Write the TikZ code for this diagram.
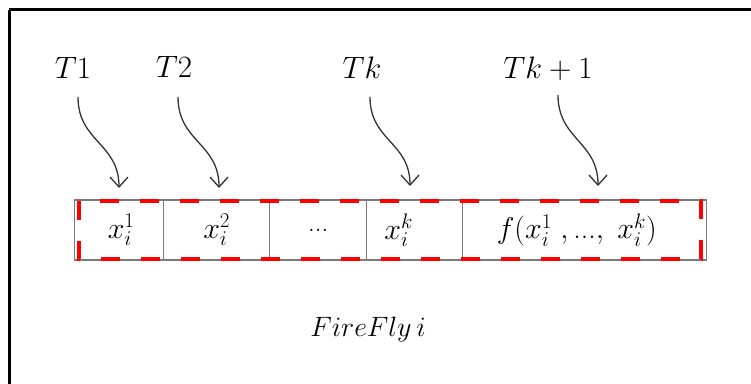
\RequirePackage{fix-cm}
\documentclass[tikz,border=0pt]{standalone}
\usepackage{amsmath}
\usetikzlibrary{arrows.meta}
\definecolor{cellgray}{HTML}{7A7A7A}
\definecolor{arrowgray}{HTML}{333333}
\definecolor{dashred}{HTML}{FF0000}
\tikzset{
  lbl/.style={anchor=base, inner sep=0pt, font=\fontsize{31}{36}\selectfont},
  cellbox/.style={draw=cellgray, line width=1.4pt, minimum height=60pt, inner sep=0pt, anchor=west,
    font=\fontsize{30}{34}\selectfont},
  wave/.style={draw=arrowgray, line width=1.3pt, -{Straight Barb[length=10pt,width=18pt,line width=1.3pt]}, out=-90, in=90, looseness=1.15},
  reddash/.style={draw=dashred, line width=4pt, dash pattern=on 19pt off 21pt}
}
\begin{document}
\begin{tikzpicture}[x=1pt,y=1pt]
\useasboundingbox (0,0) rectangle (751,383);
\begin{scope}
\clip (0,0) rectangle (751,383);
\draw[line width=3pt] (9,373) -- (770,373);
\draw[line width=3pt] (9,373) -- (9,-10);
\end{scope}
% cells with their texts
\node[cellbox, minimum width=89pt] (c1) at (74,153) {\hspace{4pt}$x_i^1$};
\node[cellbox, minimum width=106pt] (c2) at (163,153) {$x_i^2$};
\node[cellbox, minimum width=97pt] (c3) at (269,153) {\fontsize{27}{30}\selectfont...};
\node[cellbox, minimum width=96pt] (c4) at (366,153) {$x_i^k$\hspace{32pt}\null};
\node[cellbox, minimum width=244pt] (c5) at (462,153) {$f(x_i^1\;,\text{...},\;x_i^k)$\hspace{16pt}\null};
\draw[reddash] (79,182) -- (79,124) -- (701,124) -- (701,182) -- cycle;
% labels
\node[lbl] (L1) at (73,304) {$T1$};
\node[lbl] (L2) at (174,305) {$T2$};
\node[lbl] (L3) at (362,304) {$Tk$};
\node[lbl] (L4) at (548,304) {$Tk+1$};
\node[lbl, font=\fontsize{28}{32}\selectfont] (ff) at (368,47) {$FireFly\,i$};
% arrow ends
\coordinate (a1) at (78,286);  \coordinate (b1) at (119,195);
\coordinate (a2) at (178,286); \coordinate (b2) at (219,195);
\coordinate (a3) at (370,286); \coordinate (b3) at (410,197);
\coordinate (a4) at (558,288); \coordinate (b4) at (598,197);
\draw[wave] (a1) to (b1);
\draw[wave] (a2) to (b2);
\draw[wave] (a3) to (b3);
\draw[wave] (a4) to (b4);
\end{tikzpicture}
\end{document}
